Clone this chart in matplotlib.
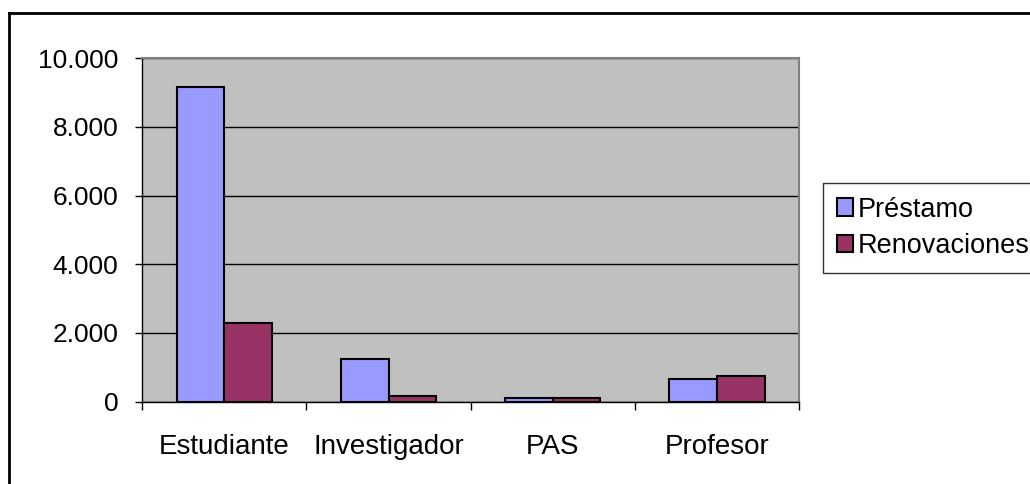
import matplotlib.pyplot as plt
import matplotlib.ticker as mticker
from matplotlib.lines import Line2D
import numpy as np

plt.rcParams['font.family'] = ['Liberation Sans', 'DejaVu Sans']

categorias = ['Estudiante', 'Investigador', 'PAS', 'Profesor']
prestamo = [9150, 1230, 100, 670]
renovaciones = [2300, 165, 100, 740]
series = ['Préstamo', 'Renovaciones']
yticks = [0, 2000, 4000, 6000, 8000, 10000]

fig = plt.figure(figsize=(10.3, 4.84), dpi=100)
ax = fig.add_axes([0.138, 0.170, 0.638, 0.710])
ax.set_facecolor('#C0C0C0')

x = np.arange(len(categorias))
w = 0.29
ax.bar(x - w / 2, prestamo, w, color='#9999FF', edgecolor='black', linewidth=1.5, label=series[0], zorder=3)
ax.bar(x + w / 2, renovaciones, w, color='#993366', edgecolor='black', linewidth=1.5, label=series[1], zorder=3)

ax.set_xlim(-0.5, len(categorias) - 0.5)
ax.set_ylim(0, 10000)
ax.set_yticks(yticks)
ax.yaxis.set_major_formatter(mticker.FuncFormatter(lambda v, p: f'{int(v):,}'.replace(',', '.')))
ax.grid(axis='y', color='black', linewidth=1, zorder=1)

ax.set_xticks(np.arange(-0.5, len(categorias)))
ax.set_xticklabels([])
ax.set_xticks(x, minor=True)
ax.set_xticklabels(categorias, minor=True)
ax.tick_params(axis='x', which='minor', length=0, pad=23, labelsize=20)
ax.tick_params(axis='x', which='major', length=6, width=1, direction='out')
ax.tick_params(axis='y', length=5, width=1, direction='out', labelsize=19, pad=12)

for s in ['top', 'right']:
    ax.spines[s].set_color('#808080')
    ax.spines[s].set_linewidth(1.5)
for s in ['left', 'bottom']:
    ax.spines[s].set_color('black')
    ax.spines[s].set_linewidth(1)

leg = fig.legend(loc='upper left', bbox_to_anchor=(823 / 1030, 1 - 183 / 484),
                 frameon=True, fancybox=False, edgecolor='black', fontsize=19.5,
                 handlelength=0.6, handleheight=0.6, handletextpad=0.2,
                 borderaxespad=0, borderpad=0.5, labelspacing=0.4)
leg.get_frame().set_linewidth(1)

# marco del gráfico
fig.add_artist(Line2D([9 / 1030, 9 / 1030], [0, 1 - 13 / 484], transform=fig.transFigure, color='black', linewidth=2))
fig.add_artist(Line2D([9 / 1030, 1], [1 - 13 / 484, 1 - 13 / 484], transform=fig.transFigure, color='black', linewidth=2))

fig.savefig('out.png', dpi=100)
